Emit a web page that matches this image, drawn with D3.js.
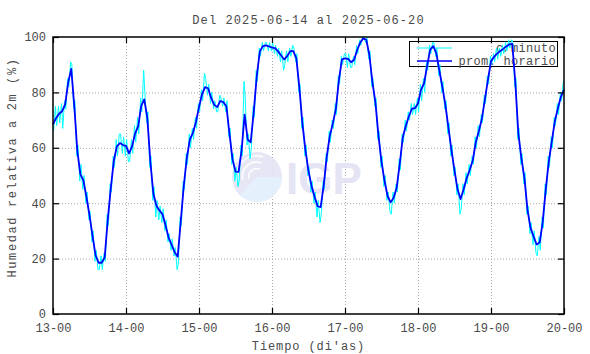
<!DOCTYPE html>
<html>
<head>
<meta charset="utf-8">
<script src="https://cdn.jsdelivr.net/npm/d3@7"></script>
<style>
  body { margin: 0; background: #fff; }
  text { font-family: "Liberation Mono", "DejaVu Sans Mono", monospace; fill: #4a4a4a; }
</style>
</head>
<body>
<div id="chart"></div>
<script>
// periodo mostrado
const fechaInicio = Date.UTC(2025, 5, 13, 0);
const fechaFin = Date.UTC(2025, 5, 20, 0);
const titulo = 'Del 2025-06-14 al 2025-06-20';
const etiquetaX = "Tiempo (di'as)";
const etiquetaY = 'Humedad relativa a 2m (%)';
const ticksY = [0, 20, 40, 60, 80, 100];
const leyenda = ['c/minuto', 'prom. horario'];

// promedio horario (%), una cifra por hora desde 13-00 hasta 20-00
const humedadHoraria = [
  68.5, 70.7, 72.3, 73.2, 75.7, 83.6, 88.5, 75.1, 58.8, 50.4, 48.2, 42.3, 35.7, 28.2, 21.2, 18.5, 18.5, 20.5, 34.0, 45.4, 55.4, 60.5, 61.7, 61.0,
  60.7, 58.0, 60.5, 65.2, 67.7, 75.1, 77.5, 70.9, 55.0, 43.4, 39.1, 37.4, 36.0, 32.0, 27.6, 25.0, 22.3, 20.7, 33.4, 46.3, 56.4, 63.0, 65.4, 69.3,
  74.7, 79.3, 81.9, 81.5, 78.0, 75.5, 74.7, 76.9, 76.5, 75.0, 65.3, 56.0, 51.4, 51.3, 59.0, 72.0, 63.0, 62.0, 73.0, 86.0, 94.8, 96.7, 97.0, 96.6,
  96.2, 96.0, 94.8, 93.3, 91.9, 93.1, 94.9, 94.9, 92.3, 81.7, 68.7, 59.1, 51.6, 46.2, 42.3, 38.9, 38.6, 46.4, 56.8, 64.3, 68.8, 74.0, 84.5, 91.9,
  92.3, 92.1, 90.9, 91.8, 95.3, 98.0, 99.5, 99.0, 93.6, 83.8, 76.4, 64.4, 55.0, 48.0, 42.6, 40.3, 42.0, 45.7, 54.2, 63.8, 67.9, 71.4, 74.1, 74.3,
  76.0, 81.0, 83.3, 89.6, 95.4, 96.7, 94.3, 88.0, 82.0, 75.5, 67.3, 59.2, 51.8, 45.0, 41.5, 45.0, 49.0, 52.0, 55.4, 62.0, 66.0, 70.5, 77.5, 84.6,
  91.2, 92.8, 94.0, 94.9, 95.7, 96.6, 97.3, 97.5, 83.5, 65.0, 56.2, 49.0, 37.6, 31.1, 28.0, 25.1, 25.8, 33.2, 45.0, 55.0, 62.4, 69.7, 74.3, 78.5,
  81.0
];

// lecturas c/minuto: minimo y maximo dentro de cada hora
const minutoMin = [
  66, 68, 69, 67, 74, 82, 74, 57, 48, 45, 40, 34, 26, 19, 16, 16, 16, 19, 32, 44, 53, 57, 58, 57,
  55, 55, 58, 62, 65, 73, 69, 53, 41, 35, 34, 33, 30, 26, 23, 21, 16, 18, 32, 45, 54, 60, 63, 67,
  73, 77, 79, 76, 74, 73, 73, 75, 73, 64, 54, 48, 46, 48, 57, 61, 56, 60, 71, 84, 93, 95, 95, 95,
  94, 93, 91, 88, 90, 91, 93, 91, 80, 67, 57, 50, 44, 40, 35, 33, 36, 45, 55, 62, 67, 72, 83, 90,
  89, 89, 89, 90, 94, 97, 98, 92, 82, 75, 63, 53, 46, 41, 37, 36, 40, 44, 52, 62, 66, 70, 72, 72,
  73, 77, 80, 88, 94, 93, 86, 80, 74, 65, 57, 50, 43, 36, 38, 43, 47, 50, 54, 60, 64, 69, 76, 83,
  90, 91, 92, 93, 94, 95, 96, 82, 63, 54, 47, 36, 29, 25, 22, 21, 23, 31, 43, 53, 60, 68, 72, 77
];
const minutoMax = [
  75, 75, 76, 77, 85, 91, 90, 77, 61, 54, 50, 44, 37, 30, 23, 21, 22, 36, 47, 57, 63, 65, 65, 64,
  63, 63, 68, 71, 78, 88, 80, 73, 57, 46, 41, 39, 38, 34, 29, 27, 24, 35, 48, 58, 65, 67, 71, 76,
  81, 87, 85, 83, 80, 77, 79, 78, 78, 77, 67, 58, 53, 61, 84, 78, 65, 75, 88, 96, 98, 98, 98, 98,
  98, 97, 96, 95, 95, 96, 97, 96, 94, 83, 71, 61, 53, 48, 44, 41, 48, 58, 66, 70, 76, 86, 93, 94,
  94, 94, 93, 97, 99, 100, 100, 100, 95, 85, 78, 66, 57, 50, 44, 44, 47, 56, 65, 70, 73, 76, 76, 78,
  83, 85, 91, 97, 98, 98, 96, 90, 84, 77, 69, 61, 53, 47, 47, 51, 54, 57, 64, 68, 72, 79, 86, 93,
  94, 96, 96, 97, 98, 99, 99, 98, 85, 67, 58, 51, 39, 33, 30, 28, 35, 47, 57, 64, 71, 76, 80, 84
];

const HORA = 3600 * 1000;
const width = 590;
const height = 354;
const margin = { top: 37, right: 26, bottom: 40, left: 53 };

const svg = d3
  .select('#chart')
  .append('svg')
  .attr('width', width)
  .attr('height', height)
  .attr('viewBox', [0, 0, width, height]);

const x = d3
  .scaleUtc()
  .domain([fechaInicio, fechaFin])
  .range([margin.left, width - margin.right]);

const y = d3
  .scaleLinear()
  .domain([0, 100])
  .range([height - margin.bottom, margin.top]);

const diasX = x.ticks(d3.utcDay.every(1));

// rejilla punteada
const grid = svg.append('g').attr('stroke', '#a8a8a8').attr('stroke-dasharray', '1,2');
grid
  .selectAll('line.gy')
  .data(ticksY.slice(1, -1))
  .enter()
  .append('line')
  .attr('x1', margin.left)
  .attr('x2', width - margin.right)
  .attr('y1', (d) => y(d) + 0.5)
  .attr('y2', (d) => y(d) + 0.5);
grid
  .selectAll('line.gx')
  .data(diasX.slice(1, -1))
  .enter()
  .append('line')
  .attr('x1', (d) => Math.round(x(d)) + 0.5)
  .attr('x2', (d) => Math.round(x(d)) + 0.5)
  .attr('y1', margin.top)
  .attr('y2', height - margin.bottom);

// marca de agua IGP
const marca = svg.append('g').attr('opacity', 0.9);
marca.append('circle').attr('cx', 257).attr('cy', 177).attr('r', 25).attr('fill', '#e4e4f5');
marca
  .append('path')
  .attr('d', 'M257,177 L282,177 A25,25 0 0 1 257,202 A25,25 0 0 1 240,195 Z')
  .attr('fill', '#e2f0fd');
[8, 14, 20].forEach((r) => {
  marca
    .append('path')
    .attr('d', `M${257 - r},${177 + r * 0.2} A${r},${r} 0 0 1 ${257 + r * 0.3},${177 - r}`)
    .attr('fill', 'none')
    .attr('stroke', '#fff')
    .attr('stroke-width', 1.5);
});
marca
  .append('text')
  .attr('x', 286)
  .attr('y', 194)
  .style('font-family', '"Liberation Sans", Arial, sans-serif')
  .style('font-size', '44px')
  .style('font-weight', 'bold')
  .style('fill', '#e2e2f3')
  .text('IGP');

// leyenda (caja y textos van debajo de las curvas)
const leg = svg.append('g');
leg
  .append('rect')
  .attr('x', 409.5)
  .attr('y', 41.5)
  .attr('width', 148)
  .attr('height', 25)
  .attr('fill', 'none')
  .attr('stroke', '#000');
const colores = ['#00ffff', '#0000ff'];
leyenda.forEach((t, i) => {
  const yy = 48 + i * 13;
  leg
    .append('line')
    .attr('x1', 417)
    .attr('x2', 452)
    .attr('y1', yy)
    .attr('y2', yy)
    .attr('stroke', colores[i])
    .attr('stroke-width', i === 0 ? 1 : 1.5);
  leg
    .append('text')
    .attr('x', 556)
    .attr('y', yy + 4)
    .attr('text-anchor', 'end')
    .style('font-size', '12px')
    .style('letter-spacing', '0.3px')
    .text(t);
});

// serie c/minuto: dentro de cada hora va del extremo inicial al final segun la tendencia
const puntosMinuto = [];
minutoMin.forEach((lo, h) => {
  const hi = minutoMax[h];
  const t0 = fechaInicio + (h + 0.2) * HORA;
  const t1 = fechaInicio + (h + 0.8) * HORA;
  if (humedadHoraria[h + 1] >= humedadHoraria[h]) {
    puntosMinuto.push([t0, lo], [t1, hi]);
  } else {
    puntosMinuto.push([t0, hi], [t1, lo]);
  }
});

const linea = d3
  .line()
  .x((d) => x(d[0]))
  .y((d) => y(d[1]));

svg
  .append('path')
  .datum(puntosMinuto)
  .attr('fill', 'none')
  .attr('stroke', '#00ffff')
  .attr('stroke-width', 1)
  .attr('d', linea);

svg
  .append('path')
  .datum(humedadHoraria.map((v, h) => [fechaInicio + h * HORA, v]))
  .attr('fill', 'none')
  .attr('stroke', '#0000ff')
  .attr('stroke-width', 1.8)
  .attr('stroke-linejoin', 'round')
  .attr('d', linea);

// ejes con marcas hacia adentro
const fmt = d3.utcFormat('%d-%H');
svg
  .append('g')
  .attr('transform', `translate(0,${height - margin.bottom})`)
  .call(d3.axisBottom(x).ticks(d3.utcDay.every(1)).tickFormat(fmt).tickSize(-6).tickPadding(9));
svg
  .append('g')
  .attr('transform', `translate(0,${margin.top})`)
  .call(d3.axisTop(x).ticks(d3.utcDay.every(1)).tickFormat('').tickSize(-6));
svg
  .append('g')
  .attr('transform', `translate(${margin.left},0)`)
  .call(d3.axisLeft(y).tickValues(ticksY).tickSize(-6).tickPadding(7));
svg
  .append('g')
  .attr('transform', `translate(${width - margin.right},0)`)
  .call(d3.axisRight(y).tickValues(ticksY).tickFormat('').tickSize(-6));

svg.selectAll('.domain').remove();
svg.selectAll('.tick line').attr('stroke', '#000').attr('stroke-width', 1.2);
svg
  .selectAll('.tick text')
  .style('font-size', '12px')
  .style('font-family', '"Liberation Mono", monospace')
  .attr('fill', '#4a4a4a');

// marco
svg
  .append('rect')
  .attr('x', margin.left)
  .attr('y', margin.top)
  .attr('width', width - margin.left - margin.right)
  .attr('height', height - margin.top - margin.bottom)
  .attr('fill', 'none')
  .attr('stroke', '#000')
  .attr('stroke-width', 1.5);

// titulos
const cx = (margin.left + width - margin.right) / 2;
svg
  .append('text')
  .attr('x', cx)
  .attr('y', 24)
  .attr('text-anchor', 'middle')
  .style('font-size', '12px')
  .style('letter-spacing', '1.1px')
  .text(titulo);
svg
  .append('text')
  .attr('x', cx)
  .attr('y', 350)
  .attr('text-anchor', 'middle')
  .style('font-size', '12px')
  .style('letter-spacing', '0.9px')
  .text(etiquetaX);
svg
  .append('text')
  .attr('transform', `translate(16,${(margin.top + height - margin.bottom) / 2 - 8}) rotate(-90)`)
  .attr('text-anchor', 'middle')
  .style('font-size', '12px')
  .style('letter-spacing', '1.6px')
  .text(etiquetaY);
</script>
</body>
</html>
